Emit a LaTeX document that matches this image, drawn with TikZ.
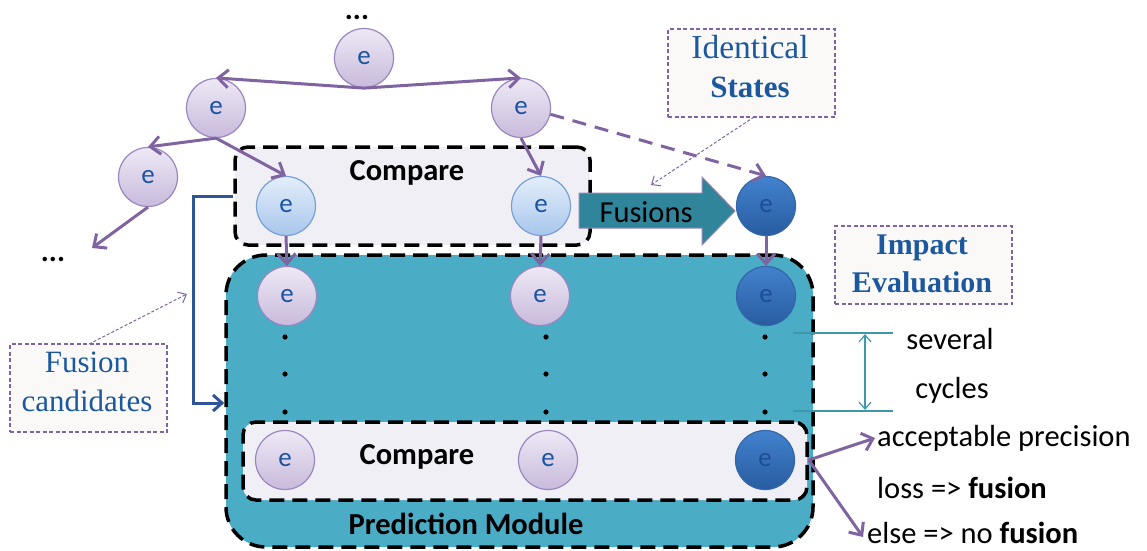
\documentclass[tikz,border=0pt]{standalone}
\usepackage{fontspec}
\setmainfont{Carlito}
\newfontfamily\tnr{Liberation Serif}
\usetikzlibrary{arrows.meta}
\definecolor{purp}{RGB}{128,100,162}
\definecolor{lavtop}{RGB}{238,233,245}
\definecolor{lavbot}{RGB}{200,186,220}
\definecolor{lavbd}{RGB}{155,135,192}
\definecolor{lbtop}{RGB}{228,238,250}
\definecolor{lbbot}{RGB}{168,198,236}
\definecolor{lbbd}{RGB}{120,160,212}
\definecolor{dbtop}{RGB}{66,130,206}
\definecolor{dbbot}{RGB}{40,92,160}
\definecolor{dbbd}{RGB}{52,102,170}
\definecolor{etext}{RGB}{28,84,160}
\definecolor{edark}{RGB}{30,78,148}
\definecolor{predfill}{RGB}{75,172,198}
\definecolor{cmpfill}{RGB}{241,239,246}
\definecolor{fusfill}{RGB}{49,133,155}
\definecolor{lblfill}{RGB}{250,249,248}
\definecolor{lbltext}{RGB}{28,88,158}
\definecolor{elbow}{RGB}{47,85,151}
\definecolor{cyc}{RGB}{62,152,172}
\tikzset{
  enode/.style={circle, minimum size=59pt, inner sep=0pt, line width=1.2pt,
    font=\fontsize{27}{27}\selectfont},
  lav/.style={enode, draw=lavbd, top color=lavtop, bottom color=lavbot, text=etext},
  lblue/.style={enode, draw=lbbd, top color=lbtop, bottom color=lbbot, text=etext},
  dblue/.style={enode, draw=dbbd, top color=dbtop, bottom color=dbbot, text=edark},
  bigdash/.style={draw=black, line width=3.5pt, dash pattern=on 15pt off 8pt},
  lblbox/.style={draw=purp, fill=lblfill, line width=1.1pt, dash pattern=on 4pt off 2.5pt, inner sep=0pt},
  lbltxt/.style={text=lbltext, align=center, font=\tnr\fontsize{31}{39}\selectfont},
  parrow/.style={draw=purp, line width=3pt, -{Straight Barb[length=10pt,width=18pt]}},
  thinarrow/.style={draw=purp, line width=1pt, dash pattern=on 3pt off 2pt, -{Straight Barb[length=7pt,width=12pt]}},
  sans/.style={font=\fontsize{30.5}{36}\selectfont},
  dots/.style={font=\bfseries\fontsize{30}{30}\selectfont, inner sep=0pt, anchor=base},
}
\begin{document}
\begin{tikzpicture}[x=1pt,y=-1pt]
\useasboundingbox (0,0) rectangle (1147,550);
% boxes
\node[bigdash, fill=predfill, rounded corners=40pt, minimum width=587pt, minimum height=292pt, inner sep=0pt] (pred) at (519.5,401) {};
\node[bigdash, fill=cmpfill, rounded corners=13pt, minimum width=355pt, minimum height=98pt, inner sep=0pt] (cmp1) at (412.5,196) {};
\node[bigdash, fill=cmpfill, rounded corners=13pt, minimum width=564pt, minimum height=78pt, inner sep=0pt] (cmp2) at (525,461) {};
\node[sans, font=\bfseries\fontsize{30.5}{36}\selectfont] (cmpt1) at (407,173) {Compare};
\node[sans, font=\bfseries\fontsize{30.5}{36}\selectfont] (cmpt2) at (417,457) {Compare};
\node[sans, font=\bfseries\fontsize{30.5}{36}\selectfont] (predt) at (466,524) {Prediction Module};
% fusions arrow
\filldraw[fill=fusfill, draw=purp!80, line width=1pt] (579,193) -- (702,193) -- (702,177) -- (735,211) -- (702,245) -- (702,228) -- (579,228) -- cycle;
\node[sans] (fust) at (646,212) {Fusions};
% nodes
\node[lav] (A) at (364,58) {e};
\node[lav] (B) at (216,108) {e};
\node[lav] (C) at (521,108) {e};
\node[lav] (D) at (148,177) {e};
\node[lblue] (E) at (286,206) {e};
\node[lblue] (F) at (541,206) {e};
\node[dblue] (G) at (766,206) {e};
\node[lav] (H) at (287,296) {e};
\node[lav] (I) at (540,296) {e};
\node[dblue] (J) at (766,296) {e};
\node[lav] (K) at (285,460) {e};
\node[lav] (L) at (548,460) {e};
\node[dblue] (M) at (765,460) {e};
% dots
\foreach \x in {285,546,765}{\foreach \y in {337,374,412}{\fill (\x,\y) circle (2.6pt);}}
\node[dots] (topdots) at (357,19) {...};
\node[dots] (leftdots) at (53,261) {...};
\coordinate (dend) at (92,248);
% tree arrows
\draw[parrow] (A.south) -- (B.north);
\draw[parrow] (A.south) -- (C.north);
\draw[parrow] (B.south) -- (D.north);
\draw[parrow] (B.south) -- (E.north);
\draw[parrow] (C.south) -- (F.north);
\draw[parrow] (D.south) -- (dend);
\draw[parrow] (E.south) -- (H.north);
\draw[parrow] (F.south) -- (I.north);
\draw[parrow] (G.south) -- (J.north);
\draw[parrow, dash pattern=on 14pt off 9pt] (C.-12) -- (G.north);
% elbow arrow
\draw[draw=elbow, line width=3pt, -{Straight Barb[length=9pt,width=16pt]}] (cmp1.west) -- ++(-40,0) |- ([yshift=-2pt]pred.west);
% labels
\node[lblbox, minimum width=167pt, minimum height=88pt] (ident) at (751.5,73) {};
\node[lbltxt] (identt) at (750,67) {{\fontsize{33.5}{39}\selectfont Identical}\\\textbf{States}};
\coordinate (identend) at (651,185);
\draw[thinarrow] (754,117) -- (identend);
\node[lblbox, minimum width=177pt, minimum height=78pt] (impact) at (923.5,265) {};
\node[lbltxt, font=\tnr\bfseries\fontsize{30}{38}\selectfont] (impactt) at (922,264) {Impact\\Evaluation};
\node[lblbox, minimum width=157pt, minimum height=88pt] (fcand) at (88.5,388) {};
\node[lbltxt] (fcandt) at (87,382) {Fusion\\candidates};
\coordinate (fcend) at (187,294);
\draw[thinarrow] (89,344) -- (fcend);
% several cycles
\draw[cyc, line width=1.2pt] (793,333) -- (893,333);
\draw[cyc, line width=1.2pt] (793,411) -- (893,411);
\draw[cyc, line width=1.2pt, {Straight Barb[length=7pt,width=12pt]}-{Straight Barb[length=7pt,width=12pt]}] (865,334) -- (865,410);
\node[sans] (sev) at (950,339) {several};
\node[sans] (cyct) at (952,390) {cycles};
% outcomes
\node[sans, anchor=west, inner sep=0pt] (acc) at (877,438) {acceptable precision};
\node[sans, anchor=west, inner sep=0pt] (loss) at (877,488) {loss => \textbf{fusion}};
\node[sans, anchor=west, inner sep=0pt] (else) at (867,533) {else => no \textbf{fusion}};
\coordinate (mout) at (cmp2.east |- M);
\draw[parrow] (mout) -- ([xshift=-2pt]acc.west);
\draw[parrow] (mout) -- ([xshift=-4pt,yshift=-4pt]else.west);
\end{tikzpicture}
\end{document}
